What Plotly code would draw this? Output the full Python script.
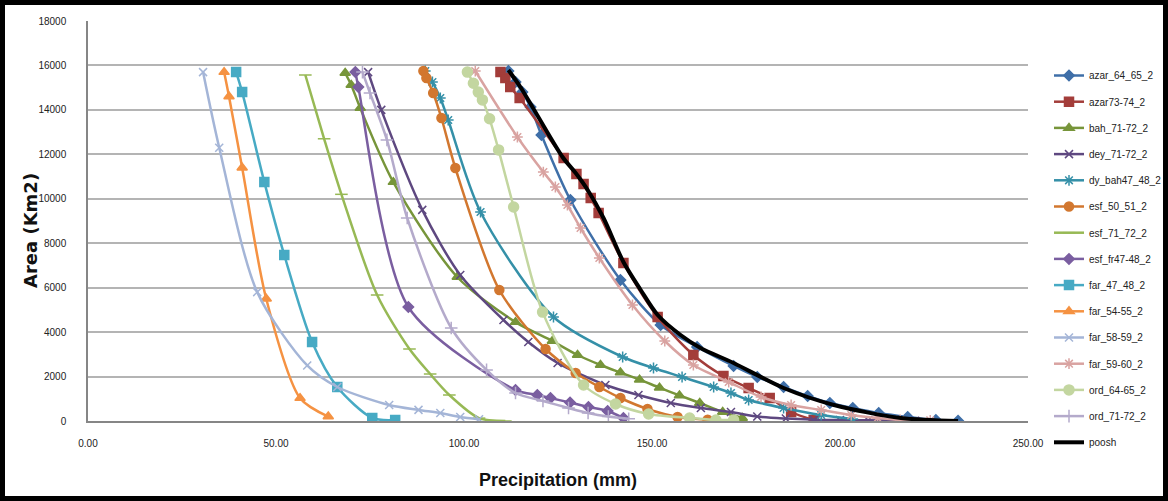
import plotly.graph_objects as go

# ---------------- data (precipitation mm, area km2) ----------------
azar_64_65_x = [111.8, 113.7, 115.5, 117.7, 120.6, 128.3, 141.6, 152.3, 162.0, 171.7, 178.0, 185.0, 191.4, 197.3, 203.4, 210.3, 218.0, 225.5, 231.4]
azar_64_65_y = [15750, 15255, 14800, 14130, 12870, 9945, 6345, 4320, 3330, 2475, 1980, 1530, 1125, 810, 585, 360, 180, 45, 10]

azar73_74_x = [109.7, 111.0, 112.3, 114.8, 126.5, 129.9, 131.8, 133.7, 135.8, 142.4, 151.5, 161.0, 169.0, 175.7, 181.3, 187.0, 193.0]
azar73_74_y = [15700, 15435, 15030, 14535, 11835, 11115, 10665, 10035, 9360, 7110, 4680, 2970, 2025, 1485, 1035, 405, 45]

bah_71_72_x = [68.4, 70.0, 72.4, 81.2, 98.2, 113.7, 123.5, 130.2, 136.3, 141.6, 146.7, 152.0, 157.3, 162.7, 168.8, 174.0]
bah_71_72_y = [15660, 15120, 14085, 10750, 6480, 4450, 3600, 2970, 2520, 2180, 1860, 1500, 1150, 810, 405, 135]

dey_71_72_x = [74.5, 78.0, 88.9, 99.0, 110.5, 117.1, 124.9, 137.6, 146.4, 155.0, 163.0, 171.0, 178.0, 185.6, 193.0, 200.0, 207.5, 215.0, 220.0]
dey_71_72_y = [15700, 14000, 9500, 6570, 4545, 3555, 2610, 1620, 1170, 810, 585, 405, 200, 110, 60, 40, 30, 20, 10]

dy_bah47_48_x = [89.7, 91.6, 93.7, 95.8, 104.4, 123.8, 142.2, 150.4, 158.0, 166.4, 171.0, 175.7, 185.0, 195.0, 203.4]
dy_bah47_48_y = [15750, 15255, 14535, 13545, 9405, 4680, 2880, 2385, 1980, 1530, 1260, 945, 585, 270, 90]

esf_50_51_x = [89.2, 90.0, 91.8, 94.0, 97.7, 109.4, 121.7, 129.7, 136.0, 141.6, 148.8, 156.8, 164.8]
esf_50_51_y = [15750, 15435, 14760, 13635, 11385, 5895, 3240, 2160, 1530, 1035, 540, 180, 60]

esf_71_72_x = [57.8, 62.8, 67.4, 76.9, 85.5, 91.0, 96.1, 104.0, 111.0]
esf_71_72_y = [15570, 12700, 10200, 5670, 3240, 2115, 1170, 130, 0]

esf_fr47_48_x = [71.1, 71.9, 85.2, 113.7, 119.5, 123.0, 128.2, 133.1, 138.2, 142.4]
esf_fr47_48_y = [15700, 15030, 5130, 1395, 1170, 1035, 830, 630, 450, 135]

far_47_48_x = [39.4, 41.0, 46.9, 52.2, 59.6, 66.3, 75.6, 81.7]
far_47_48_y = [15700, 14800, 10750, 7470, 3560, 1530, 135, 45]

far_54_55_x = [36.2, 37.5, 41.0, 47.4, 56.4, 63.9]
far_54_55_y = [15700, 14600, 11400, 5500, 1030, 200]

far_58_59_x = [30.6, 34.9, 45.0, 58.3, 66.3, 80.1, 87.9, 93.7, 99.0, 104.0]
far_58_59_y = [15700, 12300, 5800, 2500, 1530, 720, 500, 360, 180, 80]

far_59_60_x = [103.0, 114.2, 121.1, 124.3, 127.5, 131.0, 136.0, 144.8, 153.4, 161.0, 170.4, 179.0, 187.0, 195.0, 203.0, 210.0, 216.0, 224.0]
far_59_60_y = [15750, 12780, 11200, 10530, 9720, 8685, 7335, 5220, 3600, 2520, 1755, 1080, 720, 495, 270, 135, 50, 30]

ord_64_65_x = [100.9, 102.5, 103.8, 104.9, 106.8, 109.2, 113.2, 120.9, 131.8, 140.3, 149.1, 160.0, 167.0, 171.7]
ord_64_65_y = [15700, 15200, 14800, 14450, 13600, 12200, 9630, 4900, 1620, 765, 315, 135, 45, 45]

ord_71_72_x = [73.0, 75.0, 79.5, 84.9, 96.6, 106.0, 113.7, 121.0, 127.8, 133.0, 138.4, 143.8]
ord_71_72_y = [15700, 14760, 12650, 9135, 4185, 2300, 1260, 900, 585, 360, 200, 100]

poosh_x = [111.8, 115.0, 118.2, 126.2, 129.7, 132.9, 137.1, 142.4, 147.0, 151.5, 157.6, 162.9, 171.7, 185.0, 198.4, 216.2, 231.4]
poosh_y = [15795, 15030, 14130, 11880, 11160, 10395, 9135, 7155, 5895, 4770, 3870, 3285, 2610, 1485, 720, 135, 0]

x_ticks = [0, 50, 100, 150, 200, 250]
y_ticks = [0, 2000, 4000, 6000, 8000, 10000, 12000, 14000, 16000, 18000]

x_title = "Precipitation (mm)"
y_title = "Area (Km2)"

series = [
    ("azar_64_65_2", azar_64_65_x, azar_64_65_y, "#3f6fa8", "diamond", 8),
    ("azar73-74_2", azar73_74_x, azar73_74_y, "#a33d3a", "square", 9),
    ("bah_71-72_2", bah_71_72_x, bah_71_72_y, "#77953a", "triangle-up", 9),
    ("dey_71-72_2", dey_71_72_x, dey_71_72_y, "#5e4880", "x-thin-open", 8),
    ("dy_bah47_48_2", dy_bah47_48_x, dy_bah47_48_y, "#3590a8", "asterisk-open", 9),
    ("esf_50_51_2", esf_50_51_x, esf_50_51_y, "#d2772f", "circle", 9),
    ("esf_71_72_2", esf_71_72_x, esf_71_72_y, "#97b955", "line-ew-open", 9),
    ("esf_fr47-48_2", esf_fr47_48_x, esf_fr47_48_y, "#7a5ea0", "diamond", 8),
    ("far_47_48_2", far_47_48_x, far_47_48_y, "#47aac4", "square", 9),
    ("far_54-55_2", far_54_55_x, far_54_55_y, "#f59242", "triangle-up", 9),
    ("far_58-59_2", far_58_59_x, far_58_59_y, "#a4b5d7", "x-thin-open", 8),
    ("far_59-60_2", far_59_60_x, far_59_60_y, "#d9a3a1", "asterisk-open", 9),
    ("ord_64-65_2", ord_64_65_x, ord_64_65_y, "#c3d6a0", "circle", 10),
    ("ord_71-72_2", ord_71_72_x, ord_71_72_y, "#b4aacb", "cross-thin-open", 9),
]

fig = go.Figure()
for name, xs, ys, col, sym, sz in series:
    fig.add_trace(go.Scatter(
        x=xs, y=ys, name=name, legendgroup=name, mode="lines+markers",
        line=dict(color=col, width=2.5, shape="spline", smoothing=0.8),
        marker=dict(symbol=sym, size=sz, color=col, line=dict(color=col, width=1.5)),
    ))
fig.add_trace(go.Scatter(
    x=poosh_x, y=poosh_y, name="poosh", legendgroup="poosh", mode="lines",
    line=dict(color="black", width=4, shape="spline", smoothing=0.8),
))

W, H = 1168, 501
L, R, T, B = 88, 140, 21, 80
pw, ph = W - L - R, H - T - B

def px2paper_x(px):
    return (px - L) / pw

def px2paper_y(py):
    return (H - B - py) / ph

fig.update_layout(
    width=W, height=H,
    margin=dict(l=L, r=R, t=T, b=B, autoexpand=False),
    paper_bgcolor="white", plot_bgcolor="white",
    font=dict(family="Liberation Sans, Arial, sans-serif", color="#222222"),
    showlegend=True,
    legend=dict(
        x=px2paper_x(1049), y=px2paper_y(61), xanchor="left", yanchor="top",
        font=dict(size=10, family="Liberation Sans Narrow, Liberation Sans, Arial, sans-serif", color="#222"),
        tracegroupgap=7.2, itemwidth=30, bgcolor="rgba(0,0,0,0)",
    ),
    xaxis=dict(
        range=[0, 250], tickvals=x_ticks, ticktext=[f"{v:.2f}" for v in x_ticks],
        showgrid=False, zeroline=False, showline=True, linecolor="#868686", linewidth=1.5,
        ticks="", tickfont=dict(size=10, color="#222"), ticklabelstandoff=12,
    ),
    yaxis=dict(
        range=[0, 18000], tickvals=y_ticks, ticktext=[str(v) for v in y_ticks],
        showgrid=True, gridcolor="#b4b4b4", gridwidth=1.5, zeroline=False,
        showline=True, linecolor="#868686", linewidth=1.5,
        ticks="", tickfont=dict(size=10, color="#222"), ticklabelstandoff=18,
    ),
    annotations=[
        dict(text=f"<b>{x_title}</b>", xref="paper", yref="paper",
             x=px2paper_x(558), y=px2paper_y(480), xanchor="center", yanchor="middle",
             showarrow=False, font=dict(size=18, color="#111", family="Liberation Sans, Arial, sans-serif")),
        dict(text=f"<b>{y_title}</b>", xref="paper", yref="paper",
             x=px2paper_x(30), y=px2paper_y(231), xanchor="center", yanchor="middle",
             textangle=-90, showarrow=False,
             font=dict(size=18, color="#111", family="DejaVu Sans, Verdana, sans-serif")),
    ],
    shapes=[dict(
        type="rect", xref="paper", yref="paper",
        x0=px2paper_x(2.5), x1=px2paper_x(W - 2.5), y0=px2paper_y(H - 2.5), y1=px2paper_y(2.5),
        line=dict(color="black", width=5), fillcolor="rgba(0,0,0,0)", layer="above",
    )],
)

fig.write_html("out.html", config={"displayModeBar": False},
               post_script="document.body.style.margin='0';document.body.style.overflow='hidden';")
